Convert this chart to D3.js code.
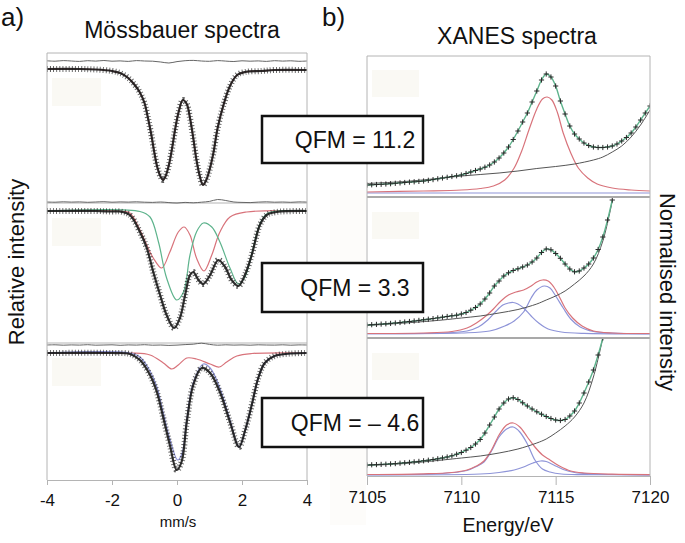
<!DOCTYPE html>
<html>
<head>
<meta charset="utf-8">
<script src="https://cdn.jsdelivr.net/npm/d3@7"></script>
<style>
body{margin:0;background:#fff;}
svg text{font-family:"Liberation Sans",Arial,Helvetica,sans-serif;fill:#111;}
</style>
</head>
<body>
<svg id="fig" width="685" height="543"></svg>
<script>
// ---------- Mössbauer spectra (velocity mm/s, relative transmission %) ----------
var mbTicks = [-4,-2,0,2,4];

var mbTopObs = [[-4,100.0],[-3,100.0],[-2.5,99.95],[-2,99.8],[-1.75,99.6],[-1.5,99.1],[-1.3,98.4],[-1.15,97.7],
  [-1,96.6],[-0.9,95.2],[-0.8,93.6],[-0.7,91.7],[-0.6,90.1],[-0.5,89.2],[-0.43,88.9],[-0.35,89.3],[-0.25,90.4],
  [-0.15,92.1],[-0.05,94.1],[0.05,95.7],[0.18,96.9],[0.3,96.5],[0.4,95.1],[0.5,93.1],[0.6,90.9],[0.7,89.3],
  [0.8,88.4],[0.9,88.9],[1,89.9],[1.12,91.6],[1.25,94.1],[1.43,96.4],[1.63,98.3],[1.85,99.4],[2.1,99.7],
  [2.6,99.8],[3,99.9],[4,99.9]];

var mbMidObs = [[-4,100],[-2.5,100],[-2,99.95],[-1.75,99.95],[-1.45,99.6],[-1.14,97.9],[-0.93,96.3],[-0.73,93.9],
  [-0.52,91.6],[-0.32,89.6],[-0.09,88.3],[0.09,89.3],[0.25,91.6],[0.4,93.6],[0.5,93.9],[0.66,93.1],[0.81,92.7],
  [1.02,93.6],[1.27,95.1],[1.48,94.4],[1.68,93.1],[1.89,92.5],[2.09,93.6],[2.3,95.6],[2.55,98.6],[2.76,99.6],
  [3.07,99.9],[4,100]];
var mbMidRed = [[-4,100],[-1.75,100],[-1.45,99.8],[-1.14,98.1],[-0.93,96.6],[-0.73,95.3],[-0.47,94.3],[-0.22,95.9],
  [0.04,97.9],[0.22,98.4],[0.4,97.6],[0.6,95.3],[0.83,94.0],[1.07,95.6],[1.32,97.9],[1.63,99.4],[2.14,99.9],[4,100]];
var mbMidGreen = [[-4,100],[-1.14,99.95],[-0.83,99.4],[-0.57,96.9],[-0.32,93.3],[-0.01,91.1],[0.2,91.9],[0.4,95.6],
  [0.6,97.9],[0.81,98.8],[1.07,98.4],[1.32,96.9],[1.63,94.3],[1.89,92.7],[2.09,93.4],[2.3,95.7],[2.55,98.7],
  [2.76,99.7],[3.1,100],[4,100]];

var mbBotObs = [[-4,100],[-2,100],[-1.45,99.9],[-1.14,99.3],[-0.83,97.8],[-0.62,96.1],[-0.42,93.5],[-0.22,90.8],
  [-0.01,88.3],[0.14,89.1],[0.3,93.1],[0.5,96.8],[0.76,98.5],[1.02,98.0],[1.32,96.1],[1.63,93.1],[1.91,90.6],
  [2.1,92.3],[2.3,94.8],[2.5,97.5],[2.7,99.0],[3,99.7],[3.5,99.95],[4,100]];
var mbBotBlue = [[-4,100],[-1.45,100],[-1.14,99.6],[-0.83,98.2],[-0.62,96.6],[-0.42,94.0],[-0.22,91.4],[0.02,89.3],
  [0.16,90.0],[0.3,93.3],[0.5,97.0],[0.81,98.9],[1.02,98.5],[1.32,96.5],[1.63,93.3],[1.91,90.6],[2.1,92.3],
  [2.3,94.8],[2.5,97.5],[2.7,99.0],[3,99.7],[3.5,99.95],[4,100]];
var mbBotRed = [[-4,100],[-1.45,100],[-0.83,99.8],[-0.42,99.0],[-0.16,98.4],[0.04,98.8],[0.3,99.5],[0.6,99.4],
  [1.02,98.9],[1.3,98.6],[1.53,99.1],[1.84,99.7],[2.3,99.95],[4,100]];

// residuals, sampled every 0.25 mm/s
var mbResidVel = [-4,-3.75,-3.5,-3.25,-3,-2.75,-2.5,-2.25,-2,-1.75,-1.5,-1.25,-1,-0.75,-0.5,-0.25,0,
  0.25,0.5,0.75,1,1.25,1.5,1.75,2,2.25,2.5,2.75,3,3.25,3.5,3.75,4];
var mbTopResid = [100.82,100.78,100.84,100.80,100.76,100.83,100.79,100.85,100.78,100.81,100.76,100.84,100.80,
  100.78,100.70,100.60,100.74,100.83,100.86,100.80,100.77,100.84,100.79,100.75,100.82,100.78,100.81,100.76,
  100.83,100.79,100.82,100.77,100.80];
var mbMidResid = [100.90,100.88,100.92,100.89,100.91,100.87,100.90,100.93,100.88,100.91,100.89,100.92,100.88,
  100.86,100.90,100.84,100.80,100.86,100.82,100.88,100.96,101.15,101.05,100.90,100.86,100.84,100.89,100.92,
  100.88,100.90,100.87,100.91,100.89];
var mbBotResid = [100.80,100.82,100.78,100.81,100.79,100.83,100.78,100.80,100.82,100.77,100.81,100.79,100.83,
  100.78,100.80,100.76,100.79,100.84,100.88,100.98,100.86,100.78,100.82,100.79,100.81,100.78,100.82,100.80,
  100.79,100.82,100.78,100.81,100.80];

// ---------- XANES spectra (energy eV, normalised intensity) ----------
var xnTicks = [7105,7110,7115,7120];
var xnEnergy = [7105,7105.25,7105.5,7105.75,7106,7106.25,7106.5,7106.75,7107,7107.25,7107.5,7107.75,
  7108,7108.25,7108.5,7108.75,7109,7109.25,7109.5,7109.75,7110,7110.25,7110.5,7110.75,7111,7111.25,7111.5,
  7111.75,7112,7112.25,7112.5,7112.75,7113,7113.25,7113.5,7113.75,7114,7114.25,7114.5,7114.75,7115,7115.25,
  7115.5,7115.75,7116,7116.25,7116.5,7116.75,7117,7117.25,7117.5,7117.75,7118,7118.25,7118.5,7118.75,7119,
  7119.25,7119.5,7119.75,7120];

var xnTopObs = [0.080,0.082,0.085,0.087,0.090,0.093,0.097,0.101,0.105,0.109,0.112,0.116,0.120,0.127,0.134,
  0.142,0.150,0.157,0.165,0.172,0.180,0.195,0.210,0.225,0.240,0.258,0.280,0.310,0.350,0.400,0.460,0.535,0.620,
  0.710,0.800,0.910,1.020,1.130,1.190,1.160,1.070,0.920,0.790,0.670,0.590,0.540,0.500,0.475,0.460,0.455,0.455,
  0.460,0.470,0.490,0.520,0.555,0.600,0.660,0.730,0.800,0.870];
var xnTopEdge = [[7105,0.095],[7107,0.115],[7109,0.15],[7110,0.17],[7111,0.185],[7112,0.20],[7113,0.22],
  [7114,0.245],[7115,0.265],[7116,0.29],[7117,0.33],[7117.5,0.36],[7118,0.41],[7118.5,0.47],[7119,0.56],
  [7119.5,0.68],[7120,0.83]];
var xnTopRed = [[7105,0.01],[7108,0.02],[7110,0.03],[7111,0.045],[7111.7,0.07],[7112.3,0.13],[7112.8,0.25],
  [7113.2,0.42],[7113.6,0.64],[7114,0.84],[7114.3,0.94],[7114.55,0.96],[7114.8,0.93],[7115.1,0.80],[7115.4,0.60],
  [7115.8,0.40],[7116.2,0.25],[7116.7,0.15],[7117.2,0.09],[7118,0.05],[7119,0.03],[7120,0.02]];
var xnTopBlue = [[7105,0.0],[7120,0.0]];

var xnMidObs = [0.090,0.093,0.096,0.099,0.102,0.106,0.110,0.115,0.120,0.125,0.130,0.136,0.142,0.148,0.154,
  0.161,0.168,0.175,0.182,0.188,0.200,0.215,0.238,0.265,0.300,0.350,0.410,0.480,0.530,0.580,0.612,0.635,0.652,
  0.670,0.690,0.720,0.760,0.815,0.850,0.842,0.805,0.757,0.700,0.650,0.622,0.630,0.660,0.700,0.760,0.845,0.970,
  1.140,1.340];
var xnMidEdge = [[7105,0.085],[7107,0.11],[7109,0.14],[7110,0.16],[7111,0.18],[7112,0.21],[7113,0.245],
  [7114,0.30],[7114.5,0.34],[7115,0.38],[7115.5,0.43],[7116,0.50],[7116.5,0.58],[7117,0.70],[7117.5,0.93],
  [7118,1.33]];
var xnMidRed = [[7105,0.005],[7108,0.01],[7109.5,0.025],[7110.3,0.06],[7110.8,0.11],[7111.3,0.18],[7111.7,0.25],
  [7112.1,0.33],[7112.5,0.39],[7112.9,0.42],[7113.3,0.44],[7113.7,0.48],[7114,0.52],[7114.3,0.54],[7114.6,0.53],
  [7114.9,0.47],[7115.2,0.37],[7115.5,0.26],[7115.9,0.16],[7116.4,0.08],[7117,0.03],[7118,0.01],[7120,0.005]];
var xnMidBlue1 = [[7105,0.003],[7109,0.01],[7110.3,0.03],[7110.9,0.07],[7111.4,0.14],[7111.8,0.22],[7112.2,0.29],
  [7112.5,0.31],[7112.75,0.315],[7113,0.30],[7113.3,0.26],[7113.7,0.18],[7114.1,0.11],[7114.6,0.05],[7115.3,0.02],
  [7116.5,0.006],[7120,0.002]];
var xnMidBlue2 = [[7105,0.003],[7110,0.01],[7111.5,0.03],[7112.3,0.08],[7112.8,0.13],[7113.3,0.22],[7113.7,0.36],
  [7114,0.44],[7114.4,0.48],[7114.7,0.46],[7115,0.38],[7115.4,0.26],[7115.8,0.15],[7116.3,0.07],[7117,0.025],
  [7118,0.01],[7120,0.003]];

var xnBotObs = [0.100,0.102,0.104,0.106,0.108,0.111,0.114,0.118,0.122,0.126,0.131,0.136,0.142,0.148,0.155,
  0.162,0.170,0.180,0.192,0.208,0.225,0.248,0.275,0.310,0.355,0.420,0.500,0.580,0.660,0.720,0.760,0.772,0.755,
  0.722,0.690,0.660,0.632,0.608,0.585,0.565,0.550,0.545,0.555,0.590,0.640,0.720,0.820,0.930,1.050,1.200,1.370];
var xnBotEdge = [[7105,0.095],[7107,0.115],[7109,0.15],[7110,0.17],[7111,0.19],[7112,0.22],[7113,0.26],
  [7114,0.32],[7114.5,0.36],[7115,0.42],[7115.5,0.49],[7116,0.58],[7116.5,0.72],[7117,0.98],[7117.5,1.37]];
var xnBotRed = [[7105,0.005],[7108,0.012],[7109.5,0.025],[7110.3,0.05],[7110.8,0.09],[7111.2,0.14],[7111.6,0.25],
  [7112,0.40],[7112.4,0.50],[7112.75,0.52],[7113.1,0.48],[7113.5,0.38],[7113.9,0.28],[7114.3,0.20],[7114.7,0.15],
  [7115.2,0.09],[7115.8,0.04],[7116.5,0.02],[7118,0.008],[7120,0.004]];
var xnBotBlue1 = [[7105,0.004],[7109,0.015],[7110.3,0.045],[7110.8,0.085],[7111.2,0.13],[7111.6,0.24],[7112,0.38],
  [7112.4,0.46],[7112.75,0.48],[7113.1,0.43],[7113.5,0.31],[7113.9,0.15],[7114.3,0.06],[7114.7,0.03],[7115.3,0.01],
  [7116.5,0.004],[7120,0.002]];
var xnBotBlue2 = [[7105,0.001],[7111,0.01],[7112,0.025],[7112.8,0.05],[7113.3,0.08],[7113.8,0.12],[7114.2,0.14],
  [7114.5,0.135],[7114.9,0.10],[7115.4,0.055],[7116,0.025],[7117,0.01],[7120,0.002]];

var qfmLabels = ['QFM = 11.2','QFM = 3.3','QFM = \u2013 4.6'];

// ---------- drawing ----------
var RED = '#d8737b', GREEN = '#5db38c', BLUE = '#8e94d8', FRAME = '#b4b4b4', INK = '#1b1b1b';
var svg = d3.select('#fig');
var smooth = d3.curveCatmullRom.alpha(0.5);

function pairLine(xs, ys){
    return d3.line().x(function(d){return xs(d[0]);}).y(function(d){return ys(d[1]);}).curve(smooth);
}

//faint band left of XANES panel
svg.append('rect').attr('x',330).attr('y',190).attr('width',36).attr('height',335).attr('fill','#fdfcfa');

//--- Mössbauer ---
var mbX = d3.scaleLinear().domain([-4,4]).range([47,307]);
var mbPanels = [
     {y0:53,  y1:203, base:69,  obs:mbTopObs, resid:mbTopResid, comps:[[mbTopObs,RED]]}
    ,{y0:203, y1:343, base:211, obs:mbMidObs, resid:mbMidResid, comps:[[mbMidRed,RED],[mbMidGreen,GREEN]]}
    ,{y0:343, y1:480, base:353, obs:mbBotObs, resid:mbBotResid, comps:[[mbBotRed,RED],[mbBotBlue,BLUE]]}
];
var mb = svg.append('g');

mbPanels.forEach(function(p){
    var y = d3.scaleLinear().domain([100,90]).range([p.base, p.base+100]);
    var g = mb.append('g');
    g.append('rect').attr('x',52).attr('y',p.y0+(p.y0==53?25:15)).attr('width',49).attr('height',28).attr('fill','#faf9f4');
    g.append('line').attr('x1',47).attr('x2',307).attr('y1',p.y0).attr('y2',p.y0).attr('stroke',FRAME);
    var ln = pairLine(mbX, y);
    //residual
    g.append('path').datum(mbResidVel.map(function(v,i){return [v,p.resid[i]];}))
        .attr('d',ln).attr('fill','none').attr('stroke','#666').attr('stroke-width',1);
    //fit components
    p.comps.forEach(function(c){
        g.append('path').datum(c[0]).attr('d',ln).attr('fill','none').attr('stroke',c[1]).attr('stroke-width',1.2);
    });
    //observed points: thick band with cross texture
    g.append('path').datum(p.obs).attr('d',ln).attr('fill','none').attr('stroke',INK).attr('stroke-width',2.2).attr('opacity',0.9);
    g.append('path').datum(p.obs).attr('d',ln).attr('fill','none').attr('stroke',INK)
        .attr('stroke-width',6).attr('stroke-dasharray','0.9,2.2').attr('opacity',0.7);
});
mb.append('line').attr('x1',47).attr('x2',47).attr('y1',53).attr('y2',480).attr('stroke',FRAME);
mb.append('line').attr('x1',307).attr('x2',307).attr('y1',53).attr('y2',480).attr('stroke',FRAME);

var mbAxis = mb.append('g').attr('transform','translate(0,480)')
    .call(d3.axisBottom(mbX).tickValues(mbTicks).tickSize(5).tickPadding(9).tickFormat(function(d){return String(d);}));
mbAxis.selectAll('path,line').attr('stroke',FRAME);
mbAxis.selectAll('text').attr('font-size',17).attr('fill','#111').style('font-family','"Liberation Sans",Arial,sans-serif');

//--- XANES ---
var xnX = d3.scaleLinear().domain([7105,7120]).range([367,650]);
var xnPanels = [
     {y0:56,  y1:197, zero:193, obs:xnTopObs, edge:xnTopEdge, comps:[[xnTopBlue,BLUE],[xnTopRed,RED]]}
    ,{y0:197, y1:338, zero:334, obs:xnMidObs, edge:xnMidEdge, comps:[[xnMidBlue1,BLUE],[xnMidBlue2,BLUE],[xnMidRed,RED]]}
    ,{y0:338, y1:476, zero:475, obs:xnBotObs, edge:xnBotEdge, comps:[[xnBotBlue1,BLUE],[xnBotBlue2,BLUE],[xnBotRed,RED]]}
];
var xn = svg.append('g');
var defs = svg.append('defs');

xnPanels.forEach(function(p,i){
    var y = d3.scaleLinear().domain([0,1]).range([p.zero, p.zero-100]);
    defs.append('clipPath').attr('id','xclip'+i).append('rect')
        .attr('x',367).attr('y',p.y0).attr('width',283).attr('height',p.y1-p.y0);
    var g = xn.append('g');
    g.append('rect').attr('x',372).attr('y',p.y0+(i==0?14:15)).attr('width',47).attr('height',27).attr('fill','#faf9f4');
    var c = g.append('g').attr('clip-path','url(#xclip'+i+')');
    var ln = pairLine(xnX, y);
    p.comps.forEach(function(cc){
        c.append('path').datum(cc[0]).attr('d',ln).attr('fill','none').attr('stroke',cc[1]).attr('stroke-width',1.2);
    });
    c.append('path').datum(p.edge).attr('d',ln).attr('fill','none').attr('stroke','#555').attr('stroke-width',1);
    var pts = p.obs.map(function(v,k){return [xnEnergy[k], v];});
    c.append('path').datum(pts).attr('d',ln).attr('fill','none').attr('stroke',GREEN).attr('stroke-width',1.4);
    c.selectAll('path.cross').data(pts).enter().append('path').attr('class','cross')
        .attr('transform',function(d){return 'translate('+xnX(d[0])+','+y(d[1])+')';})
        .attr('d','M-2.6,0H2.6M0,-2.6V2.6').attr('stroke','#2a2a2a').attr('stroke-width',1);
    if (i>0)
    {
        g.append('line').attr('x1',367).attr('x2',650).attr('y1',p.y0).attr('y2',p.y0)
            .attr('stroke','#a9a9a9').attr('stroke-width',2);
    }
});
xn.append('line').attr('x1',367).attr('x2',650).attr('y1',56).attr('y2',56).attr('stroke',FRAME);
xn.append('line').attr('x1',367).attr('x2',367).attr('y1',56).attr('y2',476).attr('stroke',FRAME);
xn.append('line').attr('x1',650).attr('x2',650).attr('y1',56).attr('y2',476).attr('stroke',FRAME);

var xnAxis = xn.append('g').attr('transform','translate(0,476)')
    .call(d3.axisBottom(xnX).tickValues(xnTicks).tickSize(9).tickPadding(6).tickFormat(d3.format('d')));
xnAxis.selectAll('path,line').attr('stroke',FRAME);
xnAxis.selectAll('text').attr('font-size',17).attr('fill','#111').style('font-family','"Liberation Sans",Arial,sans-serif');

//--- QFM boxes ---
var boxTops = [116,263,398];
qfmLabels.forEach(function(t,i){
    svg.append('rect').attr('x',262).attr('y',boxTops[i]).attr('width',161).attr('height',i==0?47:49)
        .attr('fill','#fff').attr('stroke','#111').attr('stroke-width',2.5);
    svg.append('text').attr('x',355).attr('y',boxTops[i]+(i==0?23.5:24.5)).attr('dy','0.36em')
        .attr('text-anchor','middle').attr('font-size',23).text(t);
});

//--- texts ---
svg.append('text').attr('x',1).attr('y',26).attr('font-size',26).text('a)');
svg.append('text').attr('x',322).attr('y',26).attr('font-size',26).text('b)');
svg.append('text').attr('x',182).attr('y',37.5).attr('text-anchor','middle').attr('font-size',23).text('Mössbauer spectra');
svg.append('text').attr('x',517).attr('y',44).attr('text-anchor','middle').attr('font-size',23).text('XANES spectra');
svg.append('text').attr('x',178).attr('y',527).attr('text-anchor','middle').attr('font-size',15).attr('fill','#333').text('mm/s');
svg.append('text').attr('x',508).attr('y',532).attr('text-anchor','middle').attr('font-size',19.5).text('Energy/eV');
svg.append('text').attr('transform','translate(16,262) rotate(-90)').attr('text-anchor','middle')
    .attr('dy','0.36em').attr('font-size',22).text('Relative intensity');
svg.append('text').attr('transform','translate(668,292) rotate(90)').attr('text-anchor','middle')
    .attr('dy','0.36em').attr('font-size',22).text('Normalised intensity');
</script>
</body>
</html>
